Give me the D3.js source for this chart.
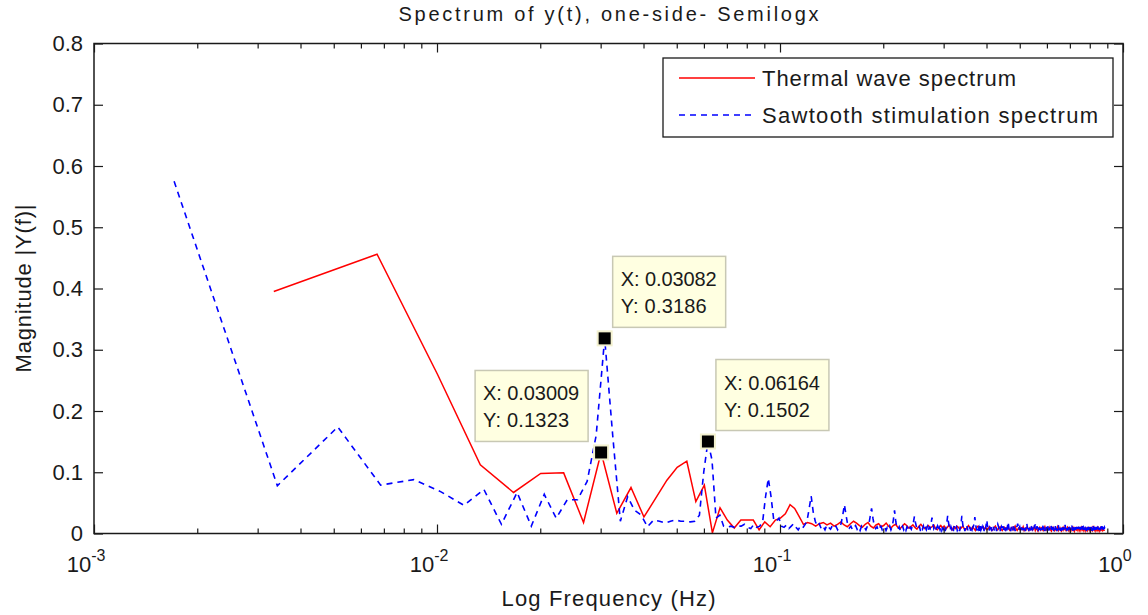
<!DOCTYPE html>
<html>
<head>
<meta charset="utf-8">
<script src="https://cdn.jsdelivr.net/npm/d3@7"></script>
<style>
  body { margin: 0; background: #fff; }
  text { font-family: "Liberation Sans", Arial, sans-serif; fill: #1a1a1a; }
</style>
</head>
<body>
<div id="chart"></div>
<script>
// frequency bin spacing of the two FFTs (from the data tips)
var sawStep = 0.0017122;
var thermStep = 0.0033433;

// Sawtooth stimulation spectrum, one row per harmonic period (18 bins)
var sawMag = [
  0.575,0.078,0.174,0.079,0.088,0.068,0.046,0.072,0.015,0.067,0.012,0.064,0.025,0.055,0.055,0.085,0.16,0.3186,
  0.16,0.02,0.06,0.038,0.03,0.011,0.022,0.02,0.017,0.02,0.022,0.02,0.02,0.019,0.02,0.03,0.10,0.1502,
  0.12,0.025,0.03,0.012,0.01,0.012,0.01,0.012,0.012,0.015,0.01,0.008,0.015,0.01,0.012,0.02,0.06,0.09,
  0.06,0.022,0.02,0.025,0.012,0.01,0.014,0.008,0.012,0.016,0.01,0.006,0.012,0.009,0.014,0.02,0.04,0.061,
  0.035,0.02,0.012,0.016,0.008,0.012,0.006,0.014,0.01,0.007,0.013,0.009,0.012,0.006,0.011,0.016,0.03,0.047,
  0.03,0.014,0.009,0.012,0.006,0.01,0.013,0.007,0.011,0.005,0.012,0.008,0.01,0.006,0.012,0.014,0.028,0.041,
  0.025,0.012,0.008,0.011,0.005,0.01,0.012,0.006,0.009,0.011,0.005,0.01,0.007,0.012,0.006,0.011,0.022,0.038,
  0.02,0.01,0.007,0.011,0.004,0.009,0.012,0.006,0.01,0.005,0.011,0.008,0.004,0.01,0.007,0.012,0.018,0.028,
  0.018,0.01,0.006,0.009,0.011,0.004,0.01,0.007,0.012,0.005,0.009,0.006,0.011,0.004,0.01,0.008,0.016,0.026,
  0.017,0.008,0.011,0.005,0.009,0.012,0.004,0.01,0.006,0.011,0.005,0.009,0.007,0.012,0.004,0.01,0.018,0.029,
  0.018,0.009,0.005,0.011,0.007,0.01,0.004,0.012,0.006,0.009,0.011,0.005,0.008,0.01,0.004,0.011,0.017,0.029,
  0.017,0.008,0.011,0.004,0.009,0.006,0.012,0.005,0.01,0.007,0.011,0.004,0.009,0.006,0.01,0.012,0.016,0.027,
  0.016,0.009,0.005,0.011,0.007,0.01,0.004,0.012,0.006,0.009,0.005,0.011,0.008,0.004,0.01,0.007,0.014,0.022,
  0.014,0.008,0.011,0.005,0.009,0.006,0.012,0.004,0.01,0.007,0.011,0.005,0.009,0.006,0.01,0.004,0.011,0.015,
  0.012,0.007,0.01,0.004,0.009,0.011,0.005,0.008,0.012,0.006,0.009,0.004,0.01,0.007,0.011,0.005,0.012,0.019,
  0.013,0.006,0.01,0.008,0.004,0.011,0.007,0.009,0.005,0.012,0.006,0.01,0.004,0.009,0.007,0.011,0.012,0.016,
  0.012,0.005,0.009,0.011,0.006,0.008,0.004,0.01,0.007,0.012,0.005,0.009,0.006,0.011,0.004,0.008,0.011,0.017,
  0.012,0.007,0.01,0.004,0.009,0.006,0.011,0.005,0.008,0.012,0.004,0.01,0.007,0.009,0.005,0.011,0.01,0.015,
  0.011,0.006,0.009,0.012,0.005,0.008,0.004,0.01,0.007,0.011,0.006,0.009,0.004,0.01,0.008,0.006,0.011,0.016,
  0.011,0.007,0.004,0.01,0.008,0.005,0.011,0.006,0.009,0.004,0.012,0.007,0.01,0.005,0.008,0.011,0.01,0.014,
  0.01,0.006,0.009,0.005,0.011,0.007,0.004,0.01,0.008,0.006,0.012,0.005,0.009,0.007,0.004,0.01,0.011,0.015,
  0.011,0.005,0.008,0.01,0.006,0.009,0.004,0.011,0.007,0.01,0.005,0.008,0.012,0.006,0.009,0.005,0.01,0.014,
  0.01,0.007,0.011,0.004,0.009,0.006,0.01,0.008,0.005,0.011,0.007,0.004,0.01,0.008,0.006,0.011,0.009,0.013,
  0.01,0.006,0.004,0.009,0.011,0.007,0.005,0.01,0.008,0.012,0.006,0.009,0.004,0.011,0.007,0.01,0.011,0.015,
  0.011,0.007,0.01,0.005,0.008,0.011,0.006,0.009,0.004,0.01,0.007,0.012,0.005,0.009,0.006,0.01,0.009,0.013,
  0.01,0.006,0.009,0.011,0.005,0.008,0.004,0.01,0.007,0.011,0.006,0.009,0.012,0.005,0.008,0.006,0.01,0.014,
  0.01,0.008,0.005,0.011,0.007,0.01,0.004,0.009,0.006,0.012,0.008,0.005,0.01,0.007,0.011,0.006,0.009,0.012,
  0.01,0.006,0.011,0.008,0.004,0.01,0.007,0.012,0.005,0.009,0.006,0.011,0.008,0.01,0.005,0.009,0.01,0.013,
  0.01,0.007,0.012,0.005,0.009,0.011,0.006,0.01,0.008,0.012,0.007,0.01,0.009
];

// Thermal wave spectrum, 20 bins per row
var thermMag = [
  0.395,0.456,0.26,0.112,0.067,0.098,0.099,0.018,0.1323,0.033,0.075,0.027,0.058,0.087,0.108,0.118,0.052,0.079,0.001,0.042,
  0.022,0.009,0.022,0.022,0.022,0.006,0.019,0.011,0.022,0.025,0.032,0.047,0.041,0.028,0.015,0.018,0.016,0.012,0.016,0.018,
  0.014,0.017,0.012,0.015,0.019,0.014,0.011,0.016,0.02,0.017,0.013,0.01,0.015,0.018,0.012,0.009,0.014,0.016,0.011,0.013,
  0.017,0.012,0.009,0.013,0.015,0.01,0.008,0.012,0.016,0.013,0.009,0.011,0.014,0.01,0.007,0.012,0.015,0.011,0.008,0.01,
  0.013,0.009,0.011,0.014,0.008,0.006,0.01,0.013,0.009,0.012,0.007,0.01,0.014,0.009,0.006,0.011,0.008,0.012,0.01,0.007,
  0.009,0.012,0.008,0.006,0.01,0.013,0.009,0.007,0.011,0.008,0.005,0.01,0.012,0.008,0.006,0.009,0.011,0.007,0.01,0.006,
  0.008,0.011,0.009,0.005,0.007,0.01,0.012,0.008,0.006,0.009,0.011,0.007,0.005,0.008,0.01,0.006,0.009,0.011,0.007,0.005,
  0.008,0.01,0.006,0.009,0.012,0.007,0.005,0.008,0.01,0.006,0.009,0.007,0.011,0.005,0.008,0.006,0.01,0.008,0.005,0.009,
  0.007,0.01,0.006,0.008,0.011,0.005,0.009,0.007,0.004,0.008,0.01,0.006,0.009,0.007,0.005,0.008,0.011,0.006,0.008,0.005,
  0.009,0.007,0.01,0.006,0.004,0.008,0.01,0.007,0.005,0.009,0.006,0.008,0.011,0.005,0.007,0.009,0.006,0.004,0.008,0.01,
  0.006,0.009,0.007,0.005,0.008,0.01,0.006,0.004,0.009,0.007,0.005,0.008,0.01,0.006,0.009,0.004,0.007,0.009,0.006,0.008,
  0.005,0.009,0.007,0.004,0.008,0.01,0.006,0.008,0.005,0.009,0.007,0.004,0.008,0.006,0.01,0.005,0.007,0.009,0.006,0.004,
  0.008,0.006,0.009,0.005,0.007,0.01,0.006,0.004,0.008,0.007,0.005,0.009,0.006,0.008,0.004,0.007,0.009,0.005,0.006,0.008,
  0.005,0.007,0.006,0.004
];

var yTicks = [0, 0.1, 0.2, 0.3, 0.4, 0.5, 0.6, 0.7, 0.8];
var xDecades = [1e-3, 1e-2, 1e-1, 1];
var xExponents = ["-3", "-2", "-1", "0"];
var seriesNames = ["Thermal wave spectrum", "Sawtooth stimulation spectrum"];

// data tips
var tipX = ["0.03082", "0.03009", "0.06164"];
var tipY = ["0.3186", "0.1323", "0.1502"];

function main() {
   drawChart();
}

function drawChart() {
   var W = 1148, H = 615;
   var margin = {top: 43.5, right: 25, bottom: 81.5, left: 94};
   var width = W - margin.left - margin.right,
       height = H - margin.top - margin.bottom;

   var svg = d3.select("#chart").append("svg")
      .attr("width", W)
      .attr("height", H);

   var g = svg.append("g")
      .attr("transform", "translate(" + margin.left + "," + margin.top + ")");

   var x = d3.scaleLog().domain([1e-3, 1]).range([0, width]);
   var y = d3.scaleLinear().domain([0, 0.8]).range([height, 0]);

   var minors = [];
   xDecades.slice(0, 3).forEach(function(d) {
      for (var m = 2; m <= 9; m++) minors.push(d * m);
   });

   //lines first, axes box over them
   var saw = sawMag.map(function(v, i) { return {f: (i + 1) * sawStep, v: v}; });
   var therm = thermMag.map(function(v, i) { return {f: (i + 1) * thermStep, v: v}; });

   var line = d3.line()
      .x(function(d) { return x(d.f); })
      .y(function(d) { return y(d.v); });

   g.append("path")
      .datum(therm)
      .attr("fill", "none")
      .attr("stroke", "#ff0000")
      .attr("stroke-width", 1.5)
      .attr("d", line);

   g.append("path")
      .datum(saw)
      .attr("fill", "none")
      .attr("stroke", "#0000ff")
      .attr("stroke-width", 1.6)
      .attr("stroke-dasharray", "6,5")
      .attr("d", line);

   //axes (ticks point inward, matlab style)
   var axisStyle = function(sel) {
      sel.select(".domain").remove();
      sel.selectAll("line").attr("stroke", "#1a1a1a").attr("stroke-width", 1.2);
   };

   g.append("g")
      .attr("transform", "translate(0," + height + ")")
      .call(d3.axisBottom(x).tickValues(xDecades).tickSizeInner(-9).tickSizeOuter(0).tickFormat(""))
      .call(axisStyle);
   g.append("g")
      .attr("transform", "translate(0," + height + ")")
      .call(d3.axisBottom(x).tickValues(minors).tickSizeInner(-5).tickSizeOuter(0).tickFormat(""))
      .call(axisStyle);
   g.append("g")
      .call(d3.axisTop(x).tickValues(xDecades).tickSizeInner(-9).tickSizeOuter(0).tickFormat(""))
      .call(axisStyle);
   g.append("g")
      .call(d3.axisTop(x).tickValues(minors).tickSizeInner(-5).tickSizeOuter(0).tickFormat(""))
      .call(axisStyle);

   var yAxis = g.append("g")
      .call(d3.axisLeft(y).tickValues(yTicks).tickSizeInner(-9).tickSizeOuter(0).tickPadding(11)
         .tickFormat(function(d) { return d === 0 ? "0" : d3.format(".1f")(d); }))
      .call(axisStyle);
   yAxis.selectAll("text").style("font-size", "22px").attr("fill", "#1a1a1a")
      .attr("font-family", "Liberation Sans, Arial, sans-serif");

   g.append("g")
      .attr("transform", "translate(" + width + ",0)")
      .call(d3.axisRight(y).tickValues(yTicks).tickSizeInner(-9).tickSizeOuter(0).tickFormat(""))
      .call(axisStyle);

   g.append("rect")
      .attr("width", width)
      .attr("height", height)
      .attr("fill", "none")
      .attr("stroke", "#1a1a1a")
      .attr("stroke-width", 1.5);

   //x tick labels 10^n
   var xl = g.append("g").selectAll("text")
      .data(xDecades)
      .enter().append("text")
      .attr("x", function(d) { return x(d) - 8; })
      .attr("y", height + 38)
      .attr("text-anchor", "middle")
      .style("font-size", "22px");
   xl.append("tspan").text("10");
   xl.append("tspan")
      .attr("dy", -11)
      .style("font-size", "16px")
      .text(function(d, i) { return xExponents[i]; });

   //titles, stretched to the width of the wide matlab font
   svg.append("text")
      .attr("x", margin.left + width / 2)
      .attr("y", 21)
      .attr("text-anchor", "middle")
      .attr("textLength", 420)
      .attr("lengthAdjust", "spacing")
      .style("font-size", "20px")
      .text("Spectrum of y(t), one-side- Semilogx");

   svg.append("text")
      .attr("x", margin.left + width / 2)
      .attr("y", 606)
      .attr("text-anchor", "middle")
      .attr("textLength", 214)
      .attr("lengthAdjust", "spacing")
      .style("font-size", "22px")
      .text("Log Frequency (Hz)");

   svg.append("text")
      .attr("transform", "translate(31," + (margin.top + height / 2) + ") rotate(-90)")
      .attr("text-anchor", "middle")
      .attr("textLength", 168)
      .attr("lengthAdjust", "spacing")
      .style("font-size", "22px")
      .text("Magnitude |Y(f)|");

   //legend
   var leg = svg.append("g").attr("transform", "translate(663,58)");
   leg.append("rect")
      .attr("width", 450)
      .attr("height", 79)
      .attr("fill", "#fff")
      .attr("stroke", "#1a1a1a")
      .attr("stroke-width", 1.3);
   var legColors = ["#ff0000", "#0000ff"];
   var legLen = [254, 336];
   seriesNames.forEach(function(name, i) {
      var ly = 20 + i * 37;
      leg.append("line")
         .attr("x1", 16).attr("x2", 92)
         .attr("y1", ly).attr("y2", ly)
         .attr("stroke", legColors[i])
         .attr("stroke-width", 1.5)
         .attr("stroke-dasharray", i === 1 ? "6,5" : null);
      leg.append("text")
         .attr("x", 99)
         .attr("y", ly + 8)
         .attr("textLength", legLen[i])
         .attr("lengthAdjust", "spacing")
         .style("font-size", "22px")
         .text(name);
   });

   //data tips: marker + yellow box
   var tips = [
      {f: +tipX[0], v: +tipY[0], side: 1},
      {f: +tipX[1], v: +tipY[1], side: -1},
      {f: +tipX[2], v: +tipY[2], side: 1}
   ];
   var boxW = 113, boxH = 71;
   tips.forEach(function(t, i) {
      var px = x(t.f), py = y(t.v);
      var bx = t.side > 0 ? px + 8 : px - 13 - boxW;
      var by = py - 11 - boxH;
      var tg = g.append("g");
      tg.append("rect")
         .attr("x", bx).attr("y", by)
         .attr("width", boxW).attr("height", boxH)
         .attr("fill", "#ffffe1")
         .attr("stroke", "#c8c8b4")
         .attr("stroke-width", 1.5);
      tg.append("text")
         .attr("x", bx + 8).attr("y", by + 30)
         .attr("textLength", 96)
         .attr("lengthAdjust", "spacing")
         .style("font-size", "20px")
         .text("X: " + tipX[i]);
      tg.append("text")
         .attr("x", bx + 8).attr("y", by + 57)
         .attr("textLength", 86)
         .attr("lengthAdjust", "spacing")
         .style("font-size", "20px")
         .text("Y: " + tipY[i]);
      tg.append("rect")
         .attr("x", px - 8).attr("y", py - 8)
         .attr("width", 16).attr("height", 16)
         .attr("fill", "#f3f1cf");
      tg.append("rect")
         .attr("x", px - 6).attr("y", py - 6)
         .attr("width", 12).attr("height", 12)
         .attr("fill", "#000");
   });
}

main();
</script>
</body>
</html>
